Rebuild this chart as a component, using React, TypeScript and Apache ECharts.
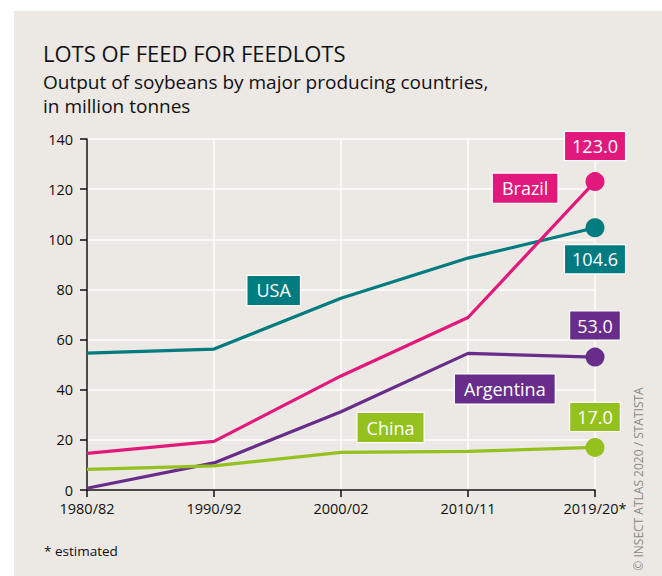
import React, { useEffect, useRef } from "react";
import * as echarts from "echarts";

const categories = ["1980/82", "1990/92", "2000/02", "2010/11", "2019/20*"];
const usa = [54.6, 56.2, 76.5, 92.5, 104.6];
const brazil = [14.6, 19.4, 45.5, 68.8, 123.0];
const argentina = [0.7, 10.8, 31.2, 54.5, 53.0];
const china = [8.2, 9.6, 15.0, 15.4, 17.0];

const countryNames = ["USA", "Brazil", "Argentina", "China"];
const colors = ["#007b80", "#e1197c", "#682d8b", "#95c11f"];
// label anchor positions (data space: category index, value)
const nameAnchors: [number, number][] = [
  [1.47, 79.6],
  [3.45, 120.4],
  [3.29, 40.3],
  [2.39, 24.9],
];
const endLabelPos = ["bottom", "top", "top", "top"];
const endLabelDist = [8, 12, 8, 7];

const FONT = "'Open Sans', sans-serif";

export default function App() {
  const ref = useRef<HTMLDivElement>(null);
  useEffect(() => {
    if (!ref.current) return;
    const chart = echarts.init(ref.current, undefined, { renderer: "svg" });
    const seriesData = [usa, brazil, argentina, china];
    const series = seriesData.map((vals, s) => ({
      type: "line",
      name: countryNames[s],
      z: s === 1 ? 4 : 3,
      data: vals.map((v, i) => {
        const item: any = { value: [i, v] };
        if (i === vals.length - 1) {
          item.label = {
            show: true,
            position: endLabelPos[s],
            distance: endLabelDist[s],
            formatter: (p: any) => p.value[1].toFixed(1),
            color: "#fff",
            fontFamily: FONT,
            fontSize: 18,
            lineHeight: 20,
            backgroundColor: colors[s],
            borderColor: "#fff",
            borderWidth: 1.2,
            padding: [4, 7, 4, 7],
          };
        }
        return item;
      }),
      symbol: "circle",
      symbolSize: (_v: any, p: any) => (p.dataIndex === vals.length - 1 ? 19 : 0),
      showAllSymbol: true,
      lineStyle: { color: colors[s], width: 3.2 },
      itemStyle: { color: colors[s] },
      label: { show: false },
      markPoint: {
        symbol: "rect",
        symbolSize: 1,
        itemStyle: { color: "transparent" },
        label: {
          show: true,
          position: "inside",
          formatter: "{b}",
          color: "#fff",
          fontFamily: FONT,
          fontSize: 18,
          lineHeight: 21,
          backgroundColor: colors[s],
          borderColor: "#fff",
          borderWidth: 1.2,
          padding: [4, 9, 4, 9],
        },
        data: [{ name: countryNames[s], coord: nameAnchors[s] }],
      },
    }));

    chart.setOption({
      animation: false,
      backgroundColor: "#ece8e4",
      grid: { left: 87, right: 67, top: 139, bottom: 86, containLabel: false },
      xAxis: {
        type: "value",
        min: 0,
        max: 4,
        interval: 1,
        axisLine: { show: true, lineStyle: { color: "#111", width: 1.5 } },
        axisTick: { show: true, length: 7, lineStyle: { color: "#111", width: 1.5 } },
        axisLabel: {
          formatter: (v: number) => categories[v] ?? "",
          color: "#111",
          fontFamily: FONT,
          fontSize: 14.5,
          margin: 11,
        },
        splitLine: { show: true, lineStyle: { color: "#ffffff", width: 1.5 } },
      },
      yAxis: {
        type: "value",
        min: 0,
        max: 140,
        interval: 20,
        axisLine: { show: true, lineStyle: { color: "#111", width: 1.5 } },
        axisTick: { show: true, length: 7, lineStyle: { color: "#111", width: 1.5 } },
        axisLabel: { color: "#111", fontFamily: FONT, fontSize: 14.5, margin: 14 },
        splitLine: { show: true, lineStyle: { color: "#ffffff", width: 1.5 } },
      },
      series,
      graphic: [
        {
          type: "rect",
          shape: { x: 0, y: 0, width: 662, height: 11 },
          style: { fill: "#ffffff" },
          silent: true,
        },
        {
          type: "rect",
          shape: { x: 0, y: 0, width: 14, height: 576 },
          style: { fill: "#ffffff" },
          silent: true,
        },
        {
          type: "text",
          x: 43,
          y: 53,
          style: {
            text: "LOTS OF FEED FOR FEEDLOTS",
            fontFamily: FONT,
            fontSize: 22,
            fill: "#111",
            verticalAlign: "middle",
          },
        },
        {
          type: "text",
          x: 43,
          y: 82,
          style: {
            text: "Output of soybeans by major producing countries,",
            fontFamily: FONT,
            fontSize: 19,
            fill: "#111",
            verticalAlign: "middle",
          },
        },
        {
          type: "text",
          x: 43,
          y: 106,
          style: {
            text: "in million tonnes",
            fontFamily: FONT,
            fontSize: 19,
            fill: "#111",
            verticalAlign: "middle",
          },
        },
        {
          type: "text",
          x: 44,
          y: 551,
          style: {
            text: "* estimated",
            fontFamily: FONT,
            fontSize: 13.5,
            fill: "#111",
            verticalAlign: "middle",
          },
        },
        {
          type: "text",
          x: 638,
          y: 479,
          rotation: Math.PI / 2,
          style: {
            text: "© INSECT ATLAS 2020 / STATISTA",
            fontFamily: FONT,
            fontSize: 12,
            fill: "#8a8a8a",
            align: "center",
            verticalAlign: "middle",
          },
        },
      ],
    });
    return () => chart.dispose();
  }, []);
  return <div ref={ref} style={{ width: 662, height: 576, position: "absolute", left: 0, top: 0 }} />;
}
